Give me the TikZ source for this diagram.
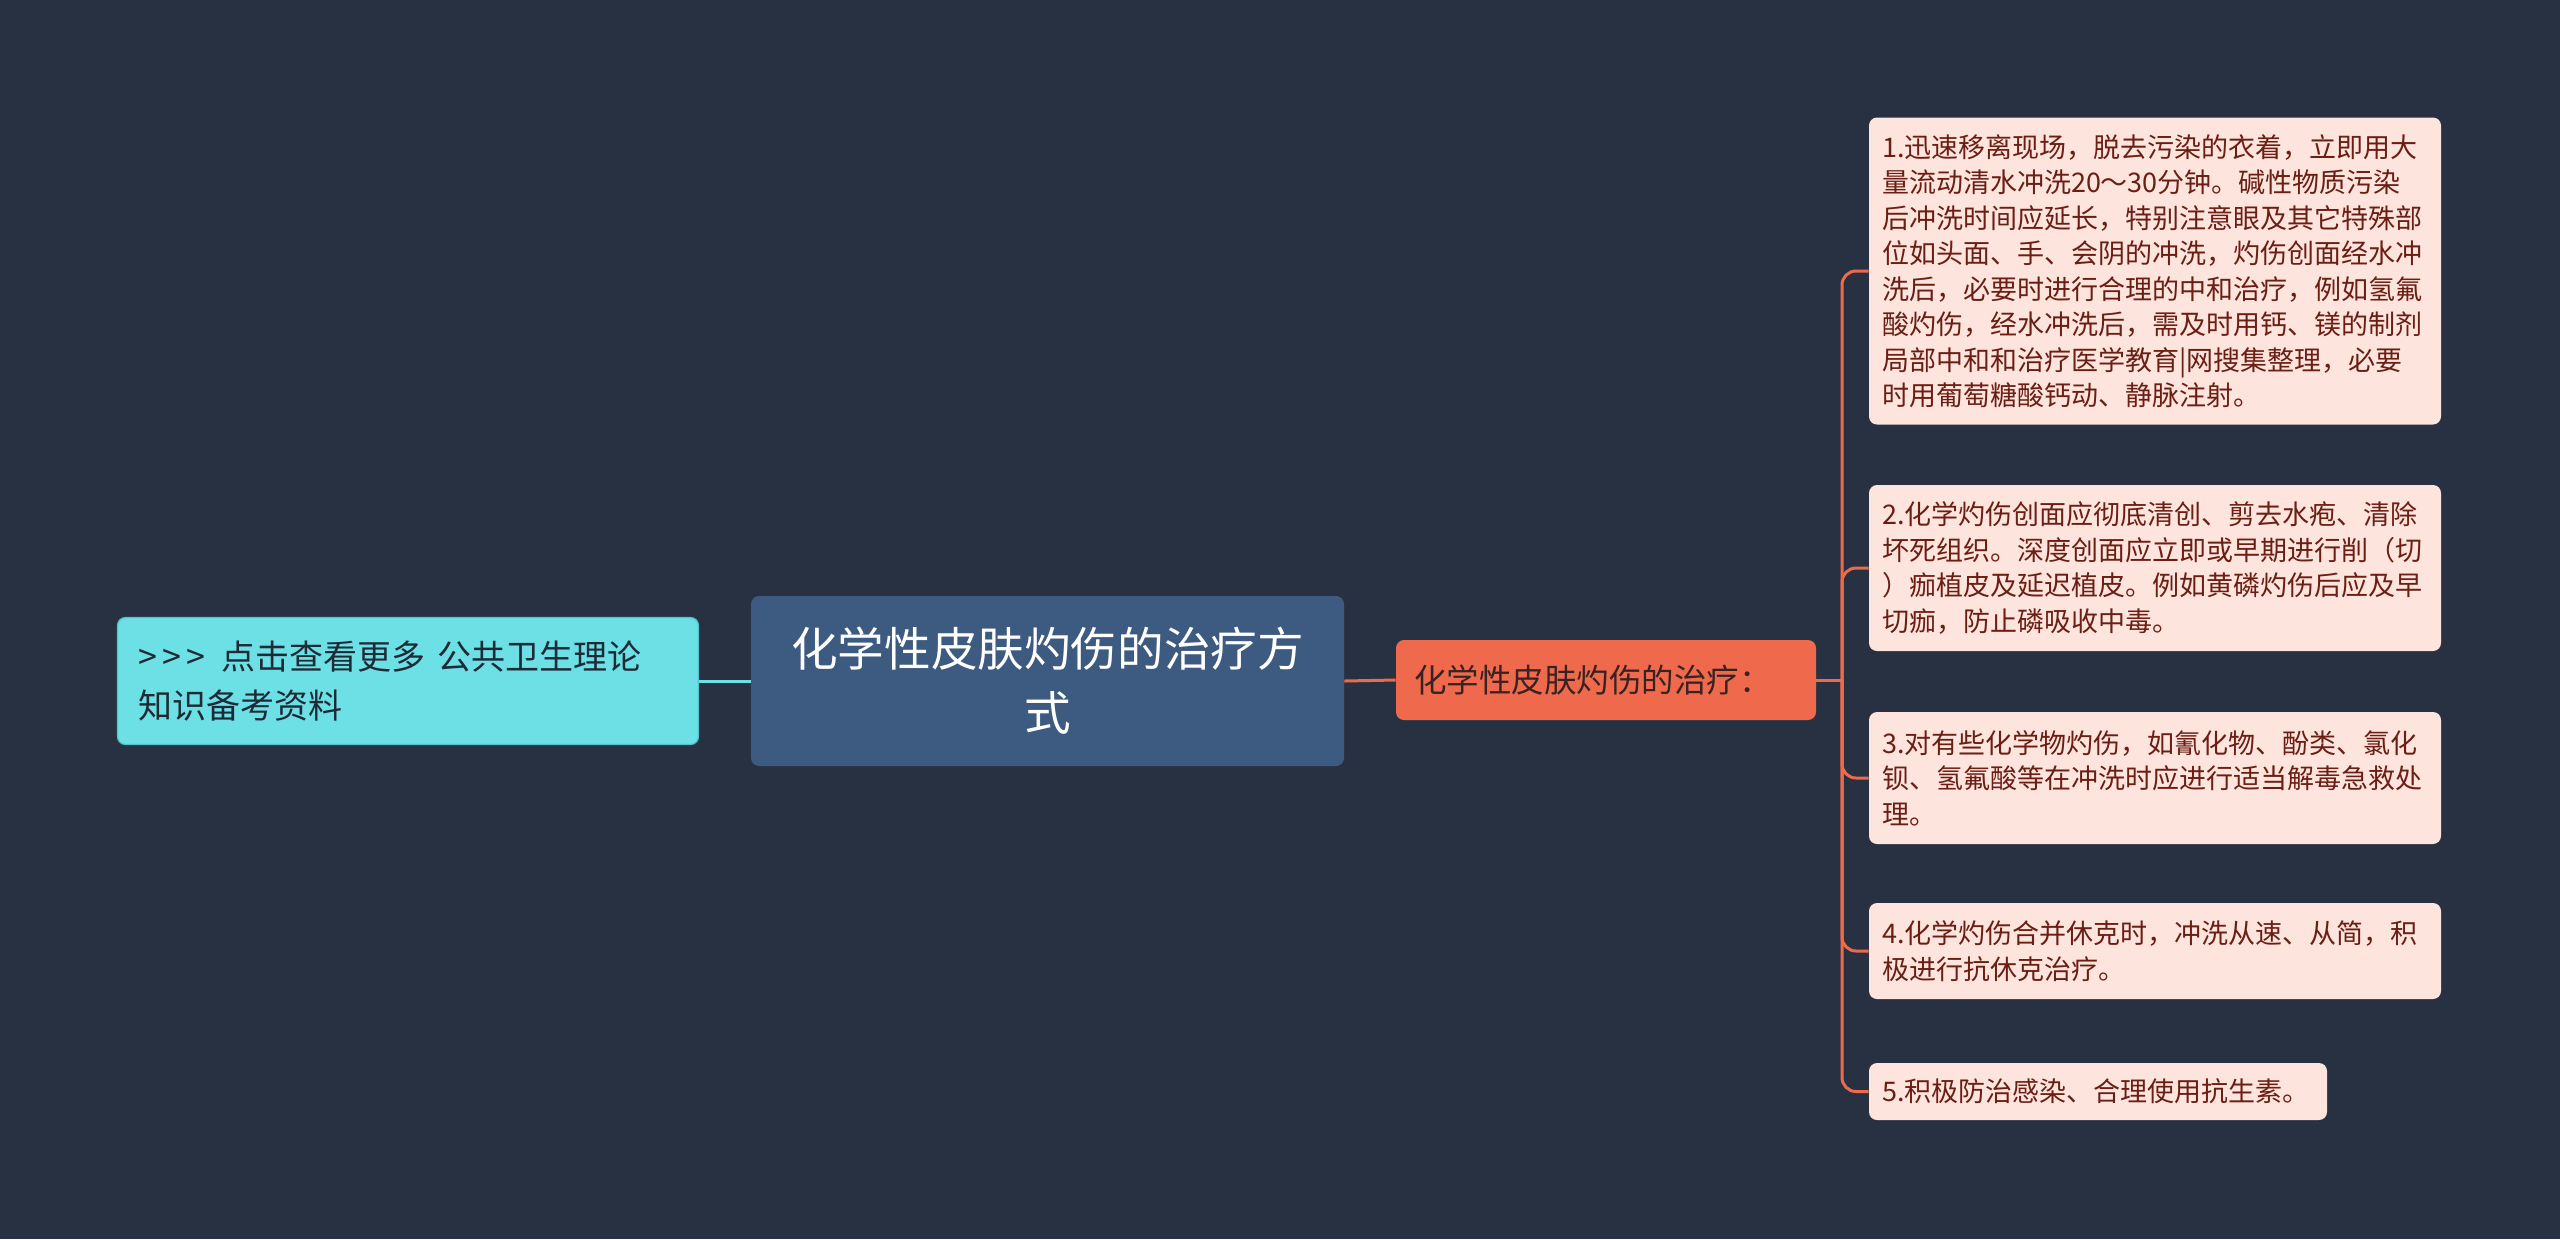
\documentclass[tikz,border=0pt]{standalone}
\usepackage{fontspec}
\setmainfont{Noto Sans CJK SC}
\definecolor{bgc}{HTML}{283142}
\definecolor{mainc}{HTML}{3D5A80}
\definecolor{cyanc}{HTML}{6CE0E5}
\definecolor{cyanb}{HTML}{4FC3CA}
\definecolor{orc}{HTML}{EF6A4C}
\definecolor{leafc}{HTML}{FDE4DD}
\definecolor{leaft}{HTML}{6B1E14}
\definecolor{ortext}{HTML}{3A2222}
\definecolor{cyantext}{HTML}{1E2B36}
\tikzset{
  basebox/.style={rounded corners=4pt, inner ysep=0pt, anchor=center},
  leaf/.style={basebox, fill=leafc, text=leaft, font=\fontsize{13.5pt}{17.75pt}\selectfont,
    align=left, inner xsep=6.5pt},
  orline/.style={draw=orc, line width=1.5pt},
  cyline/.style={draw=cyanc, line width=1.5pt},
}
\begin{document}
\begin{tikzpicture}[x=0.5pt,y=-0.5pt]
\useasboundingbox (0,0) rectangle (2560,1239);
\fill[bgc] (0,0) rectangle (2560,1239);

% central
\node[basebox, fill=mainc, text=white, font=\fontsize{23.3pt}{32pt}\selectfont,
  align=center, text width=280pt, inner xsep=8.25pt, minimum height=85pt]
  (main) at (1047.5,681) {化学性皮肤灼伤的治疗方\\式};

% left cyan
\node[basebox, fill=cyanc, draw=cyanb, line width=0.6pt, text=cyantext,
  font=\fontsize{17pt}{24.5pt}\selectfont, align=left, text width=269.5pt,
  inner xsep=10.5pt, minimum height=63.5pt]
  (left) at (408,681) {\symbol{62}\hspace{2.5pt}\symbol{62}\hspace{2.5pt}\symbol{62}\hspace{8pt}点击查看更多\hspace{6pt}公共卫生理论\\知识备考资料};

% orange
\node[basebox, fill=orc, text=ortext, font=\fontsize{16.25pt}{20pt}\selectfont,
  align=left, text width=192pt, inner xsep=9pt, minimum height=40pt]
  (mid) at (1606,680) {化学性皮肤灼伤的治疗：};

% leaves
\node[leaf, text width=273pt, minimum height=153.5pt] (b1) at (2155,271)
 {1.迅速移离现场，脱去污染的衣着，立即用大\\量流动清水冲洗20～30分钟。碱性物质污染\\后冲洗时间应延长，特别注意眼及其它特殊部\\位如头面、手、会阴的冲洗，灼伤创面经水冲\\洗后，必要时进行合理的中和治疗，例如氢氟\\酸灼伤，经水冲洗后，需及时用钙、镁的制剂\\局部中和和治疗医学教育|网搜集整理，必要\\时用葡萄糖酸钙动、静脉注射。};
\node[leaf, text width=273pt, minimum height=83pt] (b2) at (2155,568)
 {2.化学灼伤创面应彻底清创、剪去水疱、清除\\坏死组织。深度创面应立即或早期进行削（切\\）痂植皮及延迟植皮。例如黄磷灼伤后应及早\\切痂，防止磷吸收中毒。};
\node[leaf, text width=273pt, minimum height=66pt] (b3) at (2155,778)
 {3.对有些化学物灼伤，如氰化物、酚类、氯化\\钡、氢氟酸等在冲洗时应进行适当解毒急救处\\理。};
\node[leaf, text width=273pt, minimum height=48pt] (b4) at (2155,951)
 {4.化学灼伤合并休克时，冲洗从速、从简，积\\极进行抗休克治疗。};
\node[leaf, text width=216pt, minimum height=28.5pt] (b5) at (2098,1091.5)
 {5.积极防治感染、合理使用抗生素。};

% connectors
\draw[cyline] (left.east) -- (main.west);
\draw[orline] (main.east) -- (mid.west);
\coordinate (tk) at (1842,680);
\draw[orline] (mid.east) -- (tk);
\foreach \b in {b1,b2,b3,b4,b5}{
  \draw[orline, rounded corners=7pt] (tk) |- (\b.west);
}
\end{tikzpicture}
\end{document}
